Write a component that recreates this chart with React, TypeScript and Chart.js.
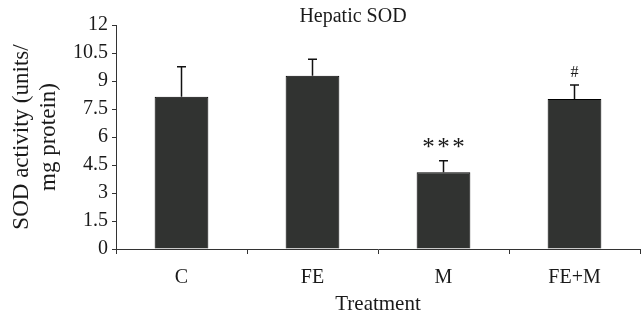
import React, { useEffect, useRef } from 'react';
import { Chart, registerables } from 'chart.js';

Chart.register(...registerables);

const categories = ['C', 'FE', 'M', 'FE+M'];
const meanValues = [8.16, 9.28, 4.11, 8.03];
const errorValues = [1.61, 0.88, 0.62, 0.75];
const markers = ['', '', '***', '#'];
const chartTitle = 'Hepatic SOD';
const yTitle = ['SOD activity (units/', 'mg protein)'];
const xTitle = 'Treatment';
const yMin = 0;
const yMax = 12;
const yStep = 1.5;

const FONT = '"Liberation Serif", "Times New Roman", serif';
const TEXT = '#1a1a1a';
const AXIS = '#333333';

const errorBarPlugin = {
  id: 'errorBars',
  afterDatasetsDraw(chart: any) {
    const { ctx } = chart;
    const yScale = chart.scales.y;
    const meta = chart.getDatasetMeta(0);
    ctx.save();
    ctx.strokeStyle = '#111';
    ctx.lineWidth = 1.5;
    meta.data.forEach((bar: any, i: number) => {
      const top = yScale.getPixelForValue(meanValues[i] + errorValues[i]);
      ctx.beginPath();
      ctx.moveTo(bar.x, bar.y);
      ctx.lineTo(bar.x, top);
      ctx.moveTo(bar.x - 4.5, top);
      ctx.lineTo(bar.x + 4.5, top);
      ctx.stroke();
      const mark = markers[i];
      if (mark) {
        ctx.fillStyle = TEXT;
        ctx.textAlign = 'center';
        ctx.textBaseline = 'middle';
        if (mark === '#') {
          ctx.font = `16px ${FONT}`;
          ctx.fillText(mark, bar.x, top - 12);
        } else {
          ctx.font = `25px ${FONT}`;
          const n = mark.length;
          for (let k = 0; k < n; k++) {
            ctx.fillText('*', bar.x + (k - (n - 1) / 2) * 15, top - 12);
          }
        }
      }
    });
    ctx.restore();
  },
  afterDraw(chart: any) {
    const { ctx } = chart;
    ctx.save();
    ctx.fillStyle = TEXT;
    ctx.font = `20px ${FONT}`;
    ctx.textAlign = 'center';
    ctx.textBaseline = 'middle';
    ctx.fillText(chartTitle, 353, 17);
    ctx.restore();
  },
};

export default function App() {
  const canvasRef = useRef<HTMLCanvasElement>(null);

  useEffect(() => {
    if (!canvasRef.current) return;
    const chart = new Chart(canvasRef.current, {
      type: 'bar',
      data: {
        labels: categories,
        datasets: [
          {
            data: meanValues,
            backgroundColor: '#313331',
            borderColor: '#000000',
            borderWidth: 1,
            barPercentage: 0.41,
            categoryPercentage: 1,
          },
        ],
      },
      options: {
        animation: false,
        responsive: false,
        maintainAspectRatio: false,
        layout: { padding: { top: 25, right: 3, left: 0, bottom: 0 } },
        plugins: {
          legend: { display: false },
          tooltip: { enabled: false },
          title: { display: false },
        },
        scales: {
          x: {
            grid: {
              drawOnChartArea: false,
              drawTicks: true,
              tickLength: 5,
              color: AXIS,
              offset: true,
            },
            border: { color: AXIS, width: 1 },
            ticks: { color: TEXT, font: { family: FONT, size: 20 }, padding: 12 },
            title: {
              display: true,
              text: xTitle,
              color: TEXT,
              font: { family: FONT, size: 21, lineHeight: 1.2 },
              padding: { top: 0, bottom: -3 },
            },
            afterFit: (scale: any) => {
              scale.height = 65;
            },
          },
          y: {
            min: yMin,
            max: yMax,
            grid: {
              drawOnChartArea: false,
              drawTicks: true,
              tickLength: 4,
              color: AXIS,
            },
            border: { color: AXIS, width: 1 },
            ticks: {
              stepSize: yStep,
              autoSkip: false,
              color: TEXT,
              font: { family: FONT, size: 20 },
              padding: 4,
            },
            title: {
              display: true,
              text: yTitle,
              color: TEXT,
              font: { family: FONT, size: 23, lineHeight: 1.2 },
              padding: { top: 8, bottom: 0 },
            },
            afterFit: (scale: any) => {
              scale.width = 116;
            },
          },
        },
      },
      plugins: [errorBarPlugin],
    });
    return () => chart.destroy();
  }, []);

  return (
    <div style={{ position: 'fixed', left: 0, top: 0, width: 643, height: 314, background: '#fff' }}>
      <canvas ref={canvasRef} width={643} height={314} style={{ width: 643, height: 314, display: 'block' }} />
    </div>
  );
}
